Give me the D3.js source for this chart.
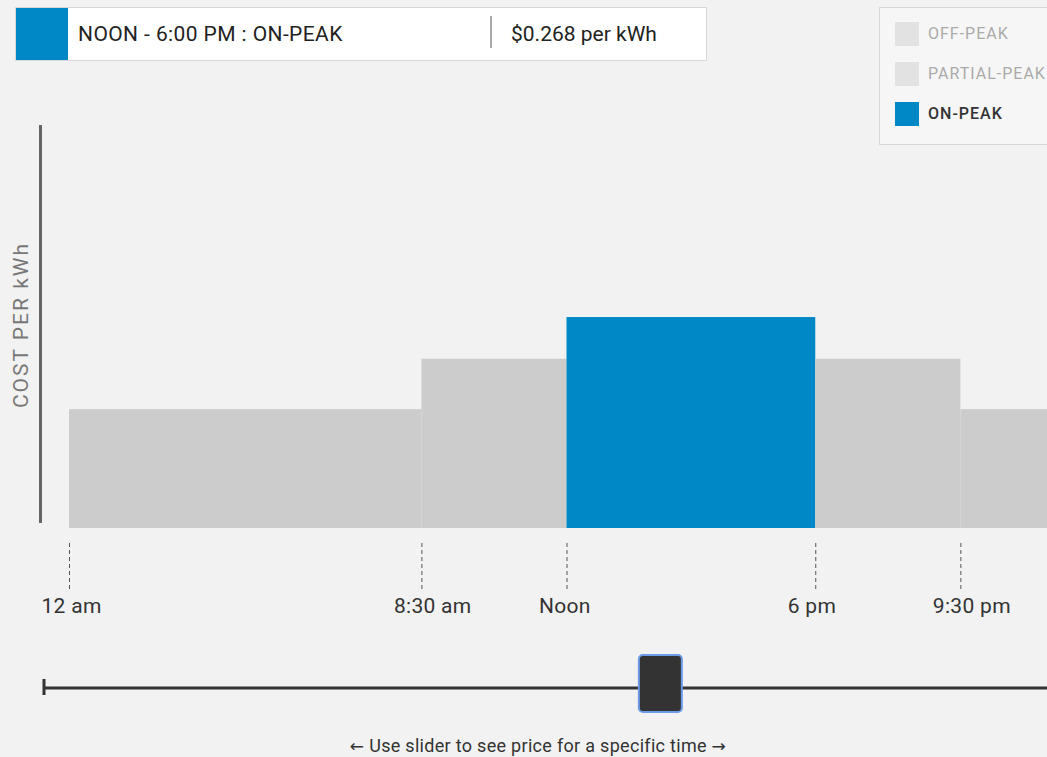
<!DOCTYPE html>
<html>
<head>
<meta charset="utf-8">
<script src="https://cdn.jsdelivr.net/npm/d3@7"></script>
<style>
	body { margin: 0; background: #f2f2f2; }
	svg { display: block; font-family: Roboto, "Liberation Sans", sans-serif; }
</style>
</head>
<body>
<div id="chart"></div>
<script>
// rate periods and their price per kWh
const periods = ['OFF-PEAK', 'PARTIAL-PEAK', 'ON-PEAK']
const rates = [0.151, 0.215, 0.268]

// the day split into blocks (hours)
const segStart = [0, 8.5, 12, 18, 21.5]
const segEnd = [8.5, 12, 18, 21.5, 24]
const segPeriod = [0, 1, 2, 1, 0]
const segLabels = ['12:00 AM - 8:30 AM', '8:30 AM - NOON', 'NOON - 6:00 PM', '6:00 PM - 9:30 PM', '9:30 PM - 12:00 AM']

const tickHours = [0, 8.5, 12, 18, 21.5]
const tickLabels = ['12 am', '8:30 am', 'Noon', '6 pm', '9:30 pm']

// where the slider sits
const selectedHour = 14.5

let width = 1047
let height = 757

let colors = { active: '#0088c6', inactive: '#cccccc', swatch: '#e2e2e2' }

let svg = d3.select('#chart')
	.append('svg')
	.attr('width', width)
	.attr('height', height)

svg.append('rect')
	.attr('width', width)
	.attr('height', height)
	.attr('fill', '#f2f2f2')

let x = d3.scaleLinear()
	.domain([0, 24])
	.range([69, 1064])

let y = d3.scaleLinear()
	.domain([0, 0.512])
	.range([528, 125])

let segments = segStart.map((s, i) => ({
	start: s,
	end: segEnd[i],
	period: segPeriod[i],
	label: segLabels[i]
}))

let selected = segments.find(d => selectedHour >= d.start && selectedHour < d.end)

// bars
svg.selectAll('.bar')
	.data(segments)
	.enter()
		.append('rect')
		.attr('class', 'bar')
		.attr('x', d => x(d.start))
		.attr('width', d => x(d.end) - x(d.start))
		.attr('y', d => y(rates[d.period]))
		.attr('height', d => y(0) - y(rates[d.period]))
		.attr('fill', d => d === selected ? colors.active : colors.inactive)

// y axis is just a bar and a label
svg.append('line')
	.attr('x1', 40.5).attr('x2', 40.5)
	.attr('y1', y.range()[1]).attr('y2', 523)
	.attr('stroke', '#666')
	.attr('stroke-width', 3)

svg.append('text')
	.attr('transform', 'translate(28,325) rotate(-90)')
	.attr('text-anchor', 'middle')
	.attr('fill', '#777')
	.style('font-size', '21px')
	.style('letter-spacing', '2px')
	.text('COST PER kWh')

// x axis with dashed ticks, labels start a bit left of the tick
let xAxis = d3.axisBottom(x)
	.tickValues(tickHours)
	.tickFormat((d, i) => tickLabels[i])
	.tickSize(46)
	.tickPadding(9)

let axisG = svg.append('g')
	.attr('transform', 'translate(0,543)')
	.call(xAxis)

axisG.select('.domain').remove()
axisG.selectAll('line')
	.attr('stroke', '#555')
	.attr('stroke-dasharray', '4,3')
axisG.selectAll('text')
	.attr('text-anchor', 'start')
	.attr('x', -28)
	.attr('fill', '#333')
	.style('font-size', '21px')
	.style('letter-spacing', '0.3px')
	.style('font-family', 'Roboto, sans-serif')

// info box at the top
let info = svg.append('g')
info.append('rect')
	.attr('x', 15.5).attr('y', 7.5)
	.attr('width', 691).attr('height', 53)
	.attr('fill', '#fff')
	.attr('stroke', '#d8d8d8')
info.append('rect')
	.attr('x', 16).attr('y', 8)
	.attr('width', 52).attr('height', 52)
	.attr('fill', colors.active)
info.append('text')
	.attr('x', 78).attr('y', 41)
	.attr('fill', '#222')
	.style('font-size', '21px')
	.style('letter-spacing', '0.4px')
	.text(selected.label + ' : ' + periods[selected.period])
info.append('line')
	.attr('x1', 491).attr('x2', 491)
	.attr('y1', 16).attr('y2', 48)
	.attr('stroke', '#555')
info.append('text')
	.attr('x', 511).attr('y', 41)
	.attr('fill', '#222')
	.style('font-size', '21px')
	.text('$' + rates[selected.period].toFixed(3) + ' per kWh')

// legend
let legend = svg.append('g')
legend.append('rect')
	.attr('x', 879.5).attr('y', 7.5)
	.attr('width', 200).attr('height', 137)
	.attr('fill', '#f6f6f6')
	.attr('stroke', '#d8d8d8')

let item = legend.selectAll('.item')
	.data(periods)
	.enter()
		.append('g')
		.attr('class', 'item')
		.attr('transform', (d, i) => `translate(895,${22 + i * 40})`)

item.append('rect')
	.attr('width', 24).attr('height', 24)
	.attr('fill', (d, i) => i === selected.period ? colors.active : colors.swatch)
item.append('text')
	.attr('x', 33).attr('y', 17)
	.attr('fill', (d, i) => i === selected.period ? '#333' : '#aaa')
	.style('font-size', '16px')
	.style('letter-spacing', '1px')
	.style('font-weight', (d, i) => i === selected.period ? 500 : 400)
	.text(d => d)

// slider
let sx = d3.scaleLinear()
	.domain([0, 24])
	.range([43, 1064])

svg.append('line')
	.attr('x1', sx(0)).attr('x2', sx(24))
	.attr('y1', 688).attr('y2', 688)
	.attr('stroke', '#333')
	.attr('stroke-width', 3)
svg.append('line')
	.attr('x1', sx(0) + 1).attr('x2', sx(0) + 1)
	.attr('y1', 679).attr('y2', 695)
	.attr('stroke', '#333')
	.attr('stroke-width', 3)
svg.append('rect')
	.attr('x', sx(selectedHour) - 21)
	.attr('y', 655)
	.attr('width', 43).attr('height', 57)
	.attr('rx', 4)
	.attr('fill', '#333')
	.attr('stroke', '#6c9be8')
	.attr('stroke-width', 2)

let hint = svg.append('text')
	.attr('x', 538).attr('y', 752)
	.attr('text-anchor', 'middle')
	.attr('fill', '#333')
	.style('font-size', '18px')
	.style('letter-spacing', '0.3px')
hint.append('tspan').style('font-family', '"DejaVu Sans", sans-serif').style('font-size', '17px').text('\u2190')
hint.append('tspan').text(' Use slider to see price for a specific time ')
hint.append('tspan').style('font-family', '"DejaVu Sans", sans-serif').style('font-size', '17px').text('\u2192')
</script>
</body>
</html>
